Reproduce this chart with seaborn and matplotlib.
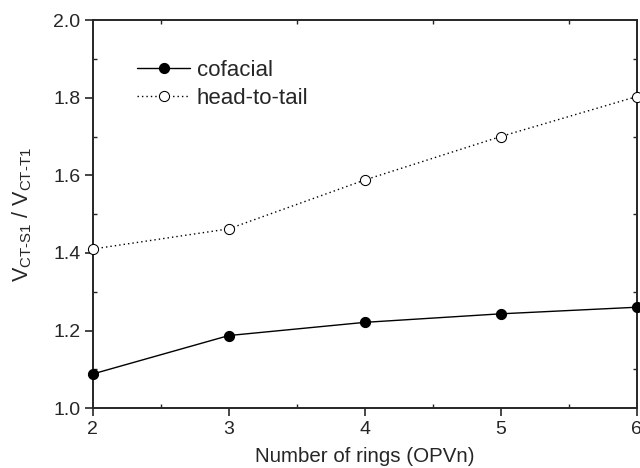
import numpy as np
import pandas as pd
import seaborn as sns
import matplotlib.pyplot as plt
from matplotlib.ticker import MultipleLocator

rings = [2, 3, 4, 5, 6]
cofacial = [1.088, 1.187, 1.221, 1.243, 1.260]
head_to_tail = [1.410, 1.462, 1.588, 1.700, 1.803]

df = pd.DataFrame({
    "rings": rings * 2,
    "ratio": cofacial + head_to_tail,
    "geometry": ["cofacial"] * 5 + ["head-to-tail"] * 5,
})

sns.set_style("ticks")
plt.rcParams["font.family"] = ["Liberation Sans", "DejaVu Sans"]
plt.rcParams["mathtext.fontset"] = "custom"
plt.rcParams["mathtext.rm"] = "Liberation Sans"
plt.rcParams["mathtext.it"] = "Liberation Sans"

fig = plt.figure(figsize=(6.4, 4.68), dpi=100)
ax = fig.add_axes([0.145, 0.128, 0.85, 0.829])

sns.lineplot(data=df, x="rings", y="ratio", style="geometry",
             dashes={"cofacial": "", "head-to-tail": (1, 2.2)},
             markers={"cofacial": "o", "head-to-tail": "o"},
             color="black", linewidth=1.0, markersize=7.3, ax=ax, clip_on=False)

# open markers for head-to-tail
for line in ax.lines:
    if line.get_linestyle() not in ("-", "solid"):
        line.set_markerfacecolor("white")
    else:
        line.set_markerfacecolor("black")
    line.set_markeredgecolor("black")
    line.set_clip_on(False)
    line.set_zorder(5)

ax.set_xlim(2, 6)
ax.set_ylim(1.0, 2.0)
ax.xaxis.set_major_locator(MultipleLocator(1))
ax.xaxis.set_minor_locator(MultipleLocator(0.5))
ax.yaxis.set_major_locator(MultipleLocator(0.2))
ax.yaxis.set_minor_locator(MultipleLocator(0.1))
ax.tick_params(which="major", direction="out", length=6, width=1.2, labelsize=14,
               top=False, right=False, pad=3)
ax.tick_params(which="minor", direction="in", length=3, width=1, top=True, right=True)
for s in ax.spines.values():
    s.set_linewidth(1.4)

ax.set_xlabel("Number of rings (OPVn)", fontsize=14.8, labelpad=7)
ax.set_ylabel(r"V$_{\mathrm{CT\text{-}S1}}$ / V$_{\mathrm{CT\text{-}T1}}$", fontsize=15.5,
              labelpad=14)

leg = ax.legend(loc="upper left", bbox_to_anchor=(0.081, 0.897), frameon=False,
                fontsize=16, handlelength=2.4, handletextpad=0.3, labelspacing=0.3,
                borderaxespad=0, borderpad=0)
for h in leg.get_lines():
    if h.get_linestyle() not in ("-", "solid"):
        h.set_markerfacecolor("white")
    else:
        h.set_markerfacecolor("black")
    h.set_markeredgecolor("black")

fig.savefig("out.png", dpi=100)
